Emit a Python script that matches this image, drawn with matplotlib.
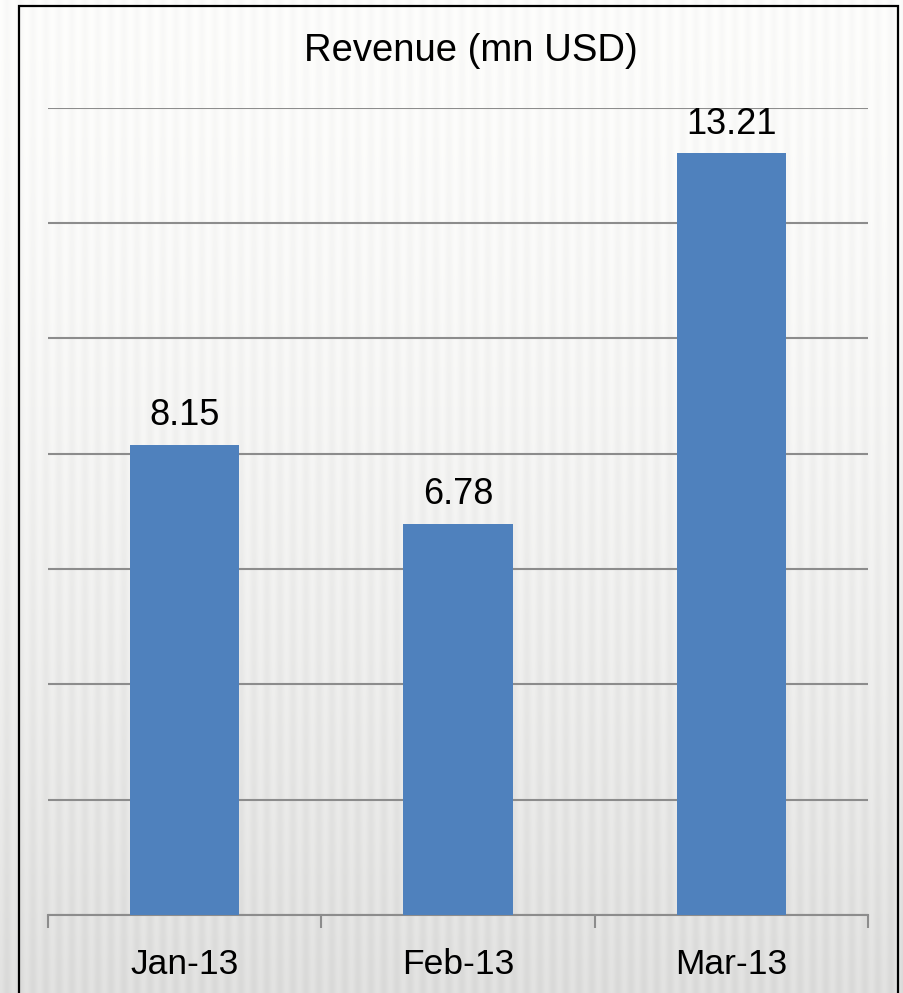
import numpy as np
import matplotlib
matplotlib.use("Agg")
import matplotlib.pyplot as plt
from matplotlib.patches import Rectangle

# datos del grafico
months = ["Jan-13", "Feb-13", "Mar-13"]
revenue = [8.15, 6.78, 13.21]
title = "Revenue (mn USD)"

plt.rcParams['font.family'] = ['Liberation Sans', 'DejaVu Sans']

W, H = 904, 993
fig = plt.figure(figsize=(W / 100, H / 100), dpi=100)

# fondo con rayas verticales claras
bg = fig.add_axes([0, 0, 1, 1], zorder=-2)
xx = np.arange(W)
yy = np.linspace(0, 1, H)
shade = 0.985 - 0.115 * yy[:, None] ** 1.6
stripes = 0.018 * np.cos(2 * np.pi * xx / 13.0)[None, :] * (0.5 + 0.5 * yy[:, None])
img = np.clip(shade + stripes, 0, 1)
rgb = np.dstack([img, img, img * 0.995])
bg.imshow(rgb, aspect="auto", extent=[0, 1, 0, 1], origin="upper")
bg.set_xlim(0, 1)
bg.set_ylim(0, 1)
bg.axis("off")

# marco negro
bg.add_patch(Rectangle((19 / W, -0.01), (898 - 19) / W, 1.01 - 6 / H,
                       fill=False, edgecolor="black", linewidth=1.6,
                       transform=bg.transAxes, clip_on=False))

ax = fig.add_axes([48 / W, 78 / H, (868 - 48) / W, (915.5 - 108) / H])
ax.patch.set_alpha(0)

x = np.arange(len(months))
bars = ax.bar(x, revenue, width=0.4, color="#4F81BD", zorder=3)
ax.set_xlim(-0.5, len(months) - 0.5)
ax.set_ylim(0, 14)
ax.set_yticks(np.arange(0, 15, 2))
ax.yaxis.grid(True, color="#8c8c8c", linewidth=1.5)
ax.set_axisbelow(True)
ax.tick_params(axis="y", left=False, labelleft=False)

# etiquetas en el centro, ticks en los bordes de categoria
ax.set_xticks(x)
ax.set_xticklabels(months, fontsize=25.5)
ax.tick_params(axis="x", which="major", length=0, pad=23.5)
ax.set_xticks(np.arange(-0.5, len(months)), minor=True)
ax.tick_params(axis="x", which="minor", length=9, width=1.5, color="#8c8c8c")

for s in ["top", "right", "left"]:
    ax.spines[s].set_visible(False)
ax.spines["bottom"].set_color("#8c8c8c")
ax.spines["bottom"].set_linewidth(1.5)

for b, v in zip(bars, revenue):
    ax.annotate(f"{v:.2f}", (b.get_x() + b.get_width() / 2, v),
                xytext=(0, 14), textcoords="offset points",
                ha="center", va="baseline", fontsize=26)

fig.text(471 / W, 1 - 61 / H, title, ha="center", va="baseline", fontsize=27.5)

fig.savefig("out.png", dpi=100)
